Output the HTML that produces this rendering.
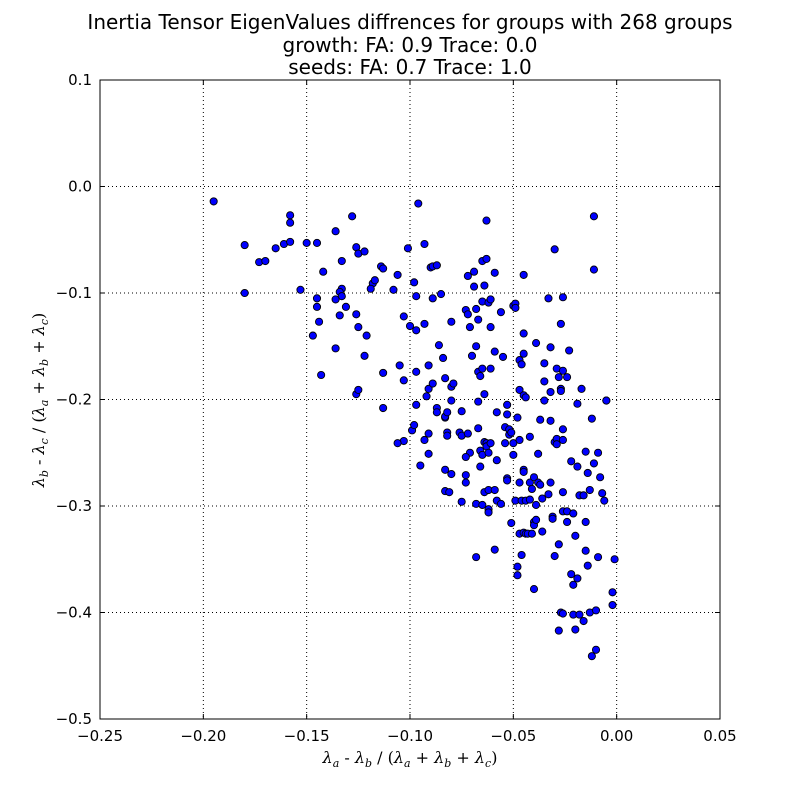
<!DOCTYPE html>
<html><head><meta charset="utf-8"><style>
body{margin:0;background:#fff}
svg{display:block;font-family:"DejaVu Sans","Liberation Sans",sans-serif}
</style></head><body>
<svg id="chart" width="800" height="800">
<rect width="800" height="800" fill="#fff"/>
<g font-size="20" text-anchor="middle" fill="#000">
<text x="410" y="29">Inertia Tensor EigenValues diffrences for groups with 268 groups</text>
<text x="410" y="52">growth: FA: 0.9 Trace: 0.0</text>
<text x="410" y="74">seeds: FA: 0.7 Trace: 1.0</text>
</g>
<g id="grid"></g>
<g id="pts"></g>
<rect x="100" y="80" width="620" height="639" fill="none" stroke="#000" stroke-width="1"/>
<g id="ticks"></g>
<text x="410" y="763" text-anchor="middle" font-size="16" font-family="DejaVu Serif,Liberation Serif,serif" font-style="italic">λ<tspan font-size="11" dy="4">a</tspan><tspan dy="-4" font-style="normal"> - </tspan>λ<tspan font-size="11" dy="4">b</tspan><tspan dy="-4" font-style="normal"> / (</tspan>λ<tspan font-size="11" dy="4">a</tspan><tspan dy="-4" font-style="normal"> + </tspan>λ<tspan font-size="11" dy="4">b</tspan><tspan dy="-4" font-style="normal"> + </tspan>λ<tspan font-size="11" dy="4">c</tspan><tspan dy="-4" font-style="normal">)</tspan></text>
<text transform="translate(44,400) rotate(-90)" text-anchor="middle" font-size="16" font-family="DejaVu Serif,Liberation Serif,serif" font-style="italic">λ<tspan font-size="11" dy="4">b</tspan><tspan dy="-4" font-style="normal"> - </tspan>λ<tspan font-size="11" dy="4">c</tspan><tspan dy="-4" font-style="normal"> / (</tspan>λ<tspan font-size="11" dy="4">a</tspan><tspan dy="-4" font-style="normal"> + </tspan>λ<tspan font-size="11" dy="4">b</tspan><tspan dy="-4" font-style="normal"> + </tspan>λ<tspan font-size="11" dy="4">c</tspan><tspan dy="-4" font-style="normal">)</tspan></text>
</svg>
<script>
const xTicks=[-0.25,-0.20,-0.15,-0.10,-0.05,0.00,0.05];
const xTickLabels=["\u22120.25","\u22120.20","\u22120.15","\u22120.10","\u22120.05","0.00","0.05"];
const yTicks=[0.1,0.0,-0.1,-0.2,-0.3,-0.4,-0.5];
const yTickLabels=["0.1","0.0","\u22120.1","\u22120.2","\u22120.3","\u22120.4","\u22120.5"];
const xs=[-0.195,-0.180,-0.180,-0.173,-0.170,-0.165,-0.161,-0.158,-0.158,-0.158,-0.150,-0.153,-0.145,-0.136,-0.128,-0.126,-0.125,-0.122,-0.142,-0.133,-0.133,-0.134,-0.133,-0.136,-0.145,-0.145,-0.144,-0.134,-0.147,-0.131,-0.126,-0.125,-0.136,-0.121,-0.122,-0.143,-0.126,-0.125,-0.118,-0.119,-0.117,-0.114,-0.113,-0.113,-0.113,-0.106,-0.108,-0.101,-0.103,-0.105,-0.103,-0.100,-0.099,-0.103,-0.106,-0.098,-0.096,-0.097,-0.093,-0.090,-0.089,-0.087,-0.085,-0.089,-0.093,-0.086,-0.097,-0.097,-0.097,-0.098,-0.091,-0.091,-0.092,-0.089,-0.084,-0.080,-0.083,-0.087,-0.087,-0.083,-0.083,-0.082,-0.082,-0.082,-0.091,-0.093,-0.091,-0.095,-0.083,-0.080,-0.083,-0.081,-0.080,-0.080,-0.079,-0.075,-0.076,-0.075,-0.075,-0.073,-0.072,-0.071,-0.072,-0.070,-0.071,-0.073,-0.073,-0.073,-0.072,-0.069,-0.069,-0.068,-0.067,-0.068,-0.068,-0.068,-0.067,-0.066,-0.067,-0.067,-0.066,-0.066,-0.065,-0.065,-0.063,-0.064,-0.063,-0.065,-0.064,-0.064,-0.065,-0.064,-0.065,-0.063,-0.063,-0.061,-0.062,-0.062,-0.062,-0.062,-0.062,-0.061,-0.061,-0.061,-0.059,-0.059,-0.059,-0.059,-0.058,-0.058,-0.058,-0.056,-0.056,-0.055,-0.054,-0.053,-0.054,-0.053,-0.053,-0.052,-0.052,-0.051,-0.053,-0.051,-0.050,-0.049,-0.049,-0.049,-0.050,-0.050,-0.048,-0.048,-0.048,-0.047,-0.047,-0.047,-0.047,-0.046,-0.047,-0.046,-0.046,-0.045,-0.045,-0.045,-0.045,-0.045,-0.045,-0.045,-0.044,-0.044,-0.044,-0.043,-0.042,-0.042,-0.042,-0.041,-0.041,-0.040,-0.040,-0.040,-0.040,-0.039,-0.039,-0.039,-0.038,-0.038,-0.037,-0.037,-0.036,-0.036,-0.035,-0.035,-0.035,-0.033,-0.033,-0.032,-0.032,-0.032,-0.032,-0.031,-0.031,-0.030,-0.030,-0.030,-0.029,-0.029,-0.029,-0.028,-0.028,-0.028,-0.027,-0.027,-0.027,-0.026,-0.027,-0.026,-0.026,-0.026,-0.026,-0.026,-0.026,-0.024,-0.024,-0.024,-0.023,-0.022,-0.022,-0.021,-0.021,-0.021,-0.020,-0.020,-0.019,-0.019,-0.019,-0.018,-0.018,-0.017,-0.016,-0.016,-0.015,-0.015,-0.015,-0.014,-0.014,-0.013,-0.013,-0.012,-0.012,-0.011,-0.011,-0.011,-0.010,-0.010,-0.009,-0.009,-0.008,-0.007,-0.005,-0.005,-0.006,-0.002,-0.002,-0.001];
const ys=[-0.014,-0.055,-0.100,-0.071,-0.070,-0.058,-0.054,-0.052,-0.027,-0.034,-0.053,-0.097,-0.053,-0.042,-0.028,-0.057,-0.063,-0.061,-0.080,-0.070,-0.096,-0.099,-0.103,-0.106,-0.105,-0.113,-0.127,-0.121,-0.140,-0.113,-0.120,-0.132,-0.152,-0.140,-0.159,-0.177,-0.195,-0.191,-0.091,-0.096,-0.088,-0.075,-0.077,-0.175,-0.208,-0.083,-0.097,-0.058,-0.122,-0.168,-0.182,-0.131,-0.229,-0.239,-0.241,-0.090,-0.016,-0.103,-0.054,-0.076,-0.075,-0.074,-0.101,-0.105,-0.129,-0.149,-0.135,-0.174,-0.205,-0.224,-0.168,-0.190,-0.197,-0.185,-0.161,-0.127,-0.180,-0.208,-0.212,-0.217,-0.216,-0.212,-0.231,-0.234,-0.232,-0.238,-0.251,-0.262,-0.266,-0.270,-0.286,-0.287,-0.201,-0.188,-0.185,-0.211,-0.231,-0.234,-0.296,-0.116,-0.084,-0.132,-0.120,-0.159,-0.250,-0.254,-0.271,-0.278,-0.232,-0.080,-0.094,-0.115,-0.125,-0.150,-0.298,-0.348,-0.174,-0.178,-0.202,-0.227,-0.248,-0.263,-0.108,-0.070,-0.068,-0.093,-0.032,-0.171,-0.195,-0.240,-0.252,-0.287,-0.299,-0.241,-0.244,-0.241,-0.250,-0.285,-0.303,-0.306,-0.109,-0.106,-0.132,-0.171,-0.155,-0.285,-0.341,-0.081,-0.212,-0.257,-0.295,-0.118,-0.298,-0.160,-0.241,-0.214,-0.226,-0.274,-0.276,-0.233,-0.228,-0.231,-0.205,-0.316,-0.112,-0.295,-0.110,-0.114,-0.241,-0.252,-0.357,-0.365,-0.217,-0.163,-0.326,-0.238,-0.278,-0.167,-0.191,-0.346,-0.295,-0.325,-0.266,-0.268,-0.083,-0.138,-0.157,-0.196,-0.198,-0.295,-0.326,-0.326,-0.235,-0.278,-0.294,-0.284,-0.326,-0.378,-0.273,-0.315,-0.318,-0.299,-0.147,-0.313,-0.251,-0.278,-0.280,-0.219,-0.324,-0.293,-0.166,-0.201,-0.183,-0.289,-0.105,-0.151,-0.193,-0.220,-0.278,-0.310,-0.312,-0.059,-0.347,-0.240,-0.237,-0.171,-0.242,-0.336,-0.417,-0.179,-0.190,-0.192,-0.129,-0.104,-0.400,-0.401,-0.305,-0.228,-0.238,-0.287,-0.173,-0.179,-0.315,-0.305,-0.154,-0.364,-0.258,-0.402,-0.374,-0.307,-0.416,-0.328,-0.263,-0.368,-0.204,-0.290,-0.402,-0.190,-0.408,-0.290,-0.315,-0.249,-0.342,-0.356,-0.269,-0.400,-0.285,-0.441,-0.218,-0.078,-0.028,-0.260,-0.435,-0.398,-0.348,-0.250,-0.273,-0.288,-0.201,-0.201,-0.295,-0.393,-0.381,-0.350];
const NS="http://www.w3.org/2000/svg";
const X0=100,X1=720,Y0=80,Y1=719;
function sx(v){return X0+(v-(-0.25))/(0.30)*(X1-X0);}
function sy(v){return Y0+(0.1-v)/(0.6)*(Y1-Y0);}
const grid=document.getElementById('grid'),ticks=document.getElementById('ticks'),pts=document.getElementById('pts');
function mk(t,a,p){const e=document.createElementNS(NS,t);for(const k in a)e.setAttribute(k,a[k]);p.appendChild(e);return e;}
xTicks.forEach((v,i)=>{const x=sx(v);
 const g=mk('line',{x1:x,x2:x,y1:Y0,y2:Y1,stroke:'#000','stroke-dasharray':'1,3','stroke-width':1},grid);
 
 
 mk('line',{x1:x,x2:x,y1:Y1,y2:Y1-5,stroke:'#000'},ticks);
 mk('line',{x1:x,x2:x,y1:Y0,y2:Y0+5,stroke:'#000'},ticks);
 const t=mk('text',{x:x,y:Y1+22,'text-anchor':'middle','font-size':15},ticks);t.textContent=xTickLabels[i];
 
 
});
yTicks.forEach((v,i)=>{const y=sy(v);
 const g=mk('line',{x1:X0,x2:X1,y1:y,y2:y,stroke:'#000','stroke-dasharray':'1,3','stroke-width':1},grid);
 
 
 mk('line',{x1:X0,x2:X0+5,y1:y,y2:y,stroke:'#000'},ticks);
 mk('line',{x1:X1,x2:X1-5,y1:y,y2:y,stroke:'#000'},ticks);
 const t=mk('text',{x:X0-8,y:y+5,'text-anchor':'end','font-size':15},ticks);t.textContent=yTickLabels[i];
 
 
});
xs.forEach((v,i)=>{
 const c=mk('circle',{cx:sx(v),cy:sy(ys[i]),r:3.6,fill:'#0000ff',stroke:'#000','stroke-width':0.9},pts);
 
 
});
</script>
</body></html>
